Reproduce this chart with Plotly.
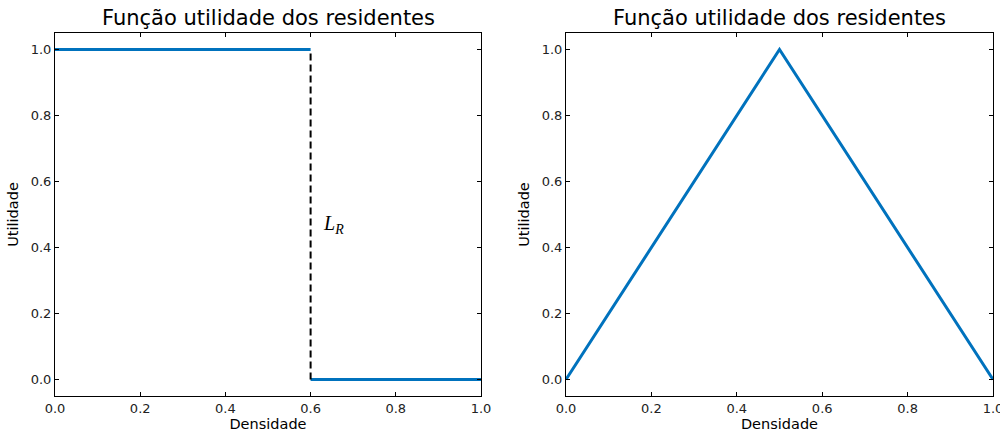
import plotly.graph_objects as go

# Data
left_x = [0.0, 0.6]
left_y_high = [1.0, 1.0]
left_x2 = [0.6, 1.0]
left_y_low = [0.0, 0.0]
dash_x = [0.6, 0.6]
dash_y = [0.0, 1.0]
right_x = [0.0, 0.5, 1.0]
right_y = [0.0, 1.0, 0.0]
tick_vals = [0.0, 0.2, 0.4, 0.6, 0.8, 1.0]
tick_text = ["0.0", "0.2", "0.4", "0.6", "0.8", "1.0"]
title_text = "Função utilidade dos residentes"
x_label = "Densidade"
y_label = "Utilidade"

blue = "#0072bd"
fig = go.Figure()
fig.add_trace(go.Scatter(x=left_x, y=left_y_high, mode="lines", line=dict(color=blue, width=3), xaxis="x", yaxis="y", showlegend=False))
fig.add_trace(go.Scatter(x=left_x2, y=left_y_low, mode="lines", line=dict(color=blue, width=3), xaxis="x", yaxis="y", showlegend=False))
fig.add_trace(go.Scatter(x=dash_x, y=dash_y, mode="lines", line=dict(color="black", width=2, dash="7px,4px"), xaxis="x", yaxis="y", showlegend=False))
fig.add_trace(go.Scatter(x=right_x, y=right_y, mode="lines", line=dict(color=blue, width=3), xaxis="x2", yaxis="y2", showlegend=False))

font = dict(family="DejaVu Sans", size=13, color="black")
axis_common = dict(range=[0, 1], tickvals=tick_vals, ticktext=tick_text, ticks="inside", ticklen=4,
                   tickcolor="black", showline=True, linecolor="black", linewidth=1, mirror="ticks",
                   showgrid=False, zeroline=False, automargin=False, ticklabeloverflow="allow",
                   tickfont=dict(family="DejaVu Sans", size=13, color="#222"))
yaxis_common = dict(axis_common, range=[-0.05, 1.05])

d1 = (481 - 55) / 938
d2 = (566 - 55) / 938

fig.update_layout(
    width=1000, height=435,
    margin=dict(l=55, r=7, t=33, b=39),
    plot_bgcolor="white", paper_bgcolor="white",
    font=font,
    xaxis=dict(axis_common, domain=[0, d1], anchor="y",
               title=dict(text=x_label, font=dict(size=14.5), standoff=4)),
    yaxis=dict(yaxis_common, domain=[0, 1], anchor="x",
               title=dict(text=y_label, font=dict(size=14.5), standoff=8)),
    xaxis2=dict(axis_common, domain=[d2, 1], anchor="y2",
                title=dict(text=x_label, font=dict(size=14.5), standoff=4)),
    yaxis2=dict(yaxis_common, domain=[0, 1], anchor="x2",
                title=dict(text=y_label, font=dict(size=14.5), standoff=8)),
    annotations=[
        dict(text=title_text, xref="x domain", yref="paper", x=0.5, y=1, yshift=1, xanchor="center", yanchor="bottom",
             showarrow=False, font=dict(family="DejaVu Sans", size=21, color="black")),
        dict(text=title_text, xref="x2 domain", yref="paper", x=0.5, y=1, yshift=1, xanchor="center", yanchor="bottom",
             showarrow=False, font=dict(family="DejaVu Sans", size=21, color="black")),
        dict(text="<i>L</i><sub><i>R</i></sub>", xref="x", yref="y", x=0.625, y=0.47, xanchor="left", yanchor="middle",
             showarrow=False, font=dict(family="Liberation Serif", size=20, color="black")),
    ],
)

fig.write_html("out.html")
